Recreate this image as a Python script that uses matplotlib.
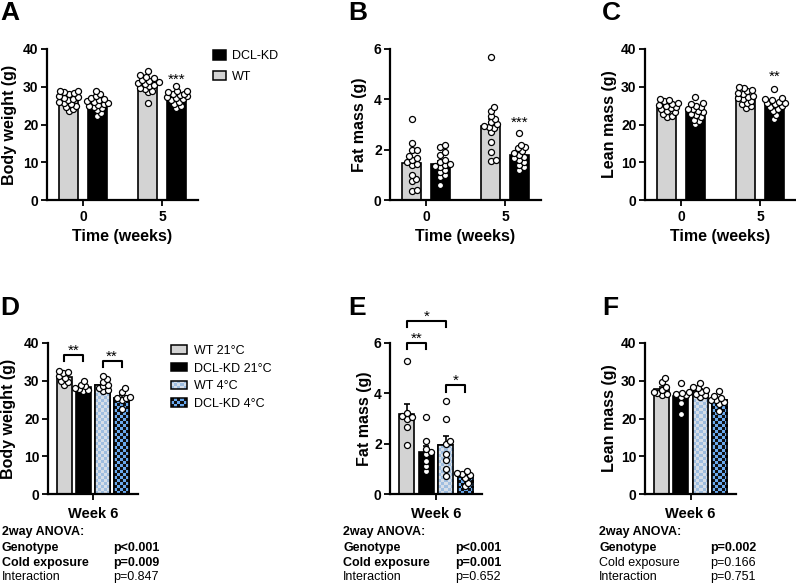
import numpy as np
import matplotlib.pyplot as plt
import matplotlib.transforms as mtransforms
from matplotlib.patches import Patch, Rectangle
from matplotlib.colors import ListedColormap
from matplotlib.legend_handler import HandlerBase

plt.rcParams['font.family'] = ['Liberation Sans', 'DejaVu Sans']

W, H = 796, 583

# ---- data: top row (week 0, week 5) ----
weeks = ['0', '5']
bw_wt = [[29.0, 28.8, 28.5, 28.3, 28.0, 27.6, 27.3, 27.0, 26.8, 26.4, 26.0, 25.7, 25.3, 25.0, 24.6, 24.0, 23.5],
         [34.3, 33.0, 32.5, 32.2, 31.8, 31.5, 31.2, 31.0, 30.8, 30.5, 30.2, 29.8, 29.5, 29.0, 28.5, 25.8]]
bw_kd = [[28.8, 28.0, 27.5, 27.0, 26.8, 26.5, 26.2, 26.0, 25.8, 25.5, 25.2, 25.0, 24.7, 24.3, 23.8, 23.0, 22.2],
         [30.3, 29.0, 28.8, 28.5, 28.2, 28.0, 27.8, 27.5, 27.2, 27.0, 26.8, 26.5, 26.0, 25.5, 24.8, 24.3]]
fat_wt = [[3.22, 2.25, 2.0, 2.0, 1.75, 1.65, 1.6, 1.5, 1.45, 1.4, 1.0, 0.85, 0.75, 0.4, 0.35],
          [5.7, 3.7, 3.55, 3.35, 3.2, 3.1, 3.0, 2.95, 2.9, 2.85, 2.7, 2.3, 1.9, 1.6, 1.55]]
fat_kd = [[2.2, 2.1, 1.9, 1.8, 1.6, 1.5, 1.45, 1.4, 1.35, 1.3, 1.2, 1.1, 1.0, 0.9, 0.6],
          [2.65, 2.2, 2.1, 2.05, 1.95, 1.85, 1.8, 1.7, 1.65, 1.6, 1.5, 1.4, 1.3, 1.2]]
lean_wt = [[26.8, 26.5, 26.2, 25.8, 25.5, 25.2, 25.0, 24.7, 24.4, 24.0, 23.6, 23.2, 22.8, 22.3, 22.0],
           [30.0, 29.8, 29.2, 28.8, 28.3, 28.0, 27.6, 27.3, 27.0, 26.7, 26.3, 25.8, 25.3, 24.8, 24.4]]
lean_kd = [[27.2, 25.8, 25.3, 25.0, 24.6, 24.2, 24.0, 23.6, 23.2, 22.9, 22.5, 22.0, 21.3, 20.9, 20.0],
           [29.5, 27.0, 26.7, 26.4, 26.0, 25.8, 25.6, 25.3, 25.0, 24.6, 24.2, 23.6, 22.6, 21.4]]

# ---- data: bottom row (week 6, 4 groups) ----
groups = ['WT 21°C', 'DCL-KD 21°C', 'WT 4°C', 'DCL-KD 4°C']
bw6 = [[32.5, 32.3, 32.0, 31.2, 30.8, 30.0, 29.8, 29.0],
       [30.0, 29.0, 28.5, 28.0, 27.8, 27.5, 27.3],
       [31.3, 30.5, 29.8, 29.0, 28.5, 28.0, 27.5, 27.2],
       [28.0, 27.0, 25.8, 25.5, 25.3, 24.8, 22.5]]
fat6 = [[5.3, 3.2, 3.1, 3.05, 3.0, 2.65, 1.95],
        [3.05, 2.1, 1.8, 1.65, 1.6, 1.3, 1.1, 0.9],
        [3.7, 3.0, 2.1, 2.0, 1.6, 1.35, 1.0, 0.7],
        [0.9, 0.85, 0.8, 0.75, 0.65, 0.45, 0.3]]
lean6 = [[30.8, 29.8, 28.3, 27.5, 27.0, 26.8, 26.5, 26.2],
         [29.5, 27.0, 26.8, 26.5, 26.2, 25.8, 24.0, 21.2],
         [29.3, 28.3, 28.0, 27.5, 27.0, 26.5, 26.2, 25.8],
         [27.2, 26.0, 25.5, 25.0, 24.8, 24.5, 23.8, 22.0]]

# significance: (bar i, bar j, bracket top, stars)
bw6_sig = [(0, 1, 36.8, '**'), (2, 3, 35.2, '**')]
fat6_sig = [(0, 1, 6.01, '**'), (0, 2, 6.89, '*'), (2, 3, 4.33, '*')]

anova_rows = ['Genotype', 'Cold exposure', 'Interaction']
anova_p = {'D': ['p<0.001', 'p=0.009', 'p=0.847'],
           'E': ['p<0.001', 'p=0.001', 'p=0.652'],
           'F': ['p=0.002', 'p=0.166', 'p=0.751']}
anova_bold = {'D': [True, True, False], 'E': [True, True, False], 'F': [True, False, False]}

gray = '#d3d3d3'
wt4_cols = ('#9fbee0', '#d6dee8')
kd4_cols = ('#111111', '#6aa9ee')

fig = plt.figure(figsize=(W/100, H/100), dpi=100)


def make_ax(x0, x1, y0, y1):
    return fig.add_axes([x0/W, 1-y1/H, (x1-x0)/W, (y1-y0)/H])


def style(ax, ymax, step, ylabel, ylab_x, xlim):
    ax.set_xlim(*xlim)
    ax.set_ylim(0, ymax)
    ax.set_autoscale_on(False)
    for s in ['top', 'right']:
        ax.spines[s].set_visible(False)
    for s in ['left', 'bottom']:
        ax.spines[s].set_linewidth(1.6)
    ax.set_yticks(np.arange(0, ymax+step/2, step))
    ax.tick_params(length=4, width=1.3, labelsize=10, pad=2)
    for t in ax.get_xticklabels() + ax.get_yticklabels():
        t.set_fontweight('bold')
    ax.set_ylabel(ylabel, fontsize=11.5, fontweight='bold')
    tr = mtransforms.blended_transform_factory(fig.transFigure, ax.transAxes)
    ax.yaxis.set_label_coords(ylab_x/W, 0.5, transform=tr)


def swarm(ax, x, vals, diam=4.8, maxoff=10):
    # simple beeswarm in pixel space
    xc, _ = ax.transData.transform((x, 0))
    placed = []
    cands = [0.0]
    for k in np.arange(0.5, maxoff+0.01, 0.5):
        cands += [k, -k]
    for v in sorted(vals):
        _, yp = ax.transData.transform((x, v))
        best, bestd = 0.0, -1
        for c in cands:
            d = min([np.hypot(xc+c-px, yp-py) for px, py in placed], default=99)
            if d >= diam:
                best = c
                break
            if d > bestd:
                best, bestd = c, d
        placed.append((xc+best, yp))
    inv = ax.transData.inverted()
    pts = np.array([inv.transform(p) for p in placed])
    ax.scatter(pts[:, 0], pts[:, 1], s=19, facecolor='white', edgecolor='black',
               linewidth=0.9, zorder=4, clip_on=False)


def checker(ax, bar, cols, cell=3):
    x0, w, h = bar.get_x(), bar.get_width(), bar.get_height()
    p0 = ax.transData.transform((x0, 0))
    p1 = ax.transData.transform((x0+w, h))
    nx = max(1, int(round((p1[0]-p0[0])/cell)))
    ny = max(1, int(round((p1[1]-p0[1])/cell)))
    arr = np.add.outer(np.arange(ny), np.arange(nx)) % 2
    im = ax.imshow(arr, cmap=ListedColormap(list(cols)), extent=(x0, x0+w, 0, h),
                   origin='lower', interpolation='nearest', aspect='auto', zorder=2.1)
    im.set_clip_path(bar)


def bars(ax, xs, data, width, color, pattern=None, maxoff=10):
    means = [np.mean(v) for v in data]
    sems = [np.std(v, ddof=1)/np.sqrt(len(v)) for v in data]
    bc = ax.bar(xs, means, width, color=color, edgecolor='k', linewidth=1.2, zorder=2)
    if pattern is not None:
        for b in bc:
            checker(ax, b, pattern)
        ax.bar(xs, means, width, fill=False, edgecolor='k', linewidth=1.2, zorder=2.2)
    ax.errorbar(xs, means, yerr=[np.zeros(len(means)), sems], fmt='none', ecolor='k',
                elinewidth=1.2, capsize=2.5, capthick=1.2, zorder=3)
    for x, v in zip(xs, data):
        swarm(ax, x, v, maxoff=maxoff)


def top_panel(x0, wt, kd, ymax, step, ylabel, ylab_x, star, star_y):
    ax = make_ax(x0, x0+151, 49, 200)
    style(ax, ymax, step, ylabel, ylab_x, (-0.456, 1.456))
    pos = np.arange(len(weeks))
    ax.set_xticks(pos, weeks)
    ax.tick_params(axis='x', pad=3)
    for t in ax.get_xticklabels():
        t.set_fontweight('bold')
    ax.set_xlabel('Time (weeks)', fontsize=11.5, fontweight='bold', labelpad=4)
    bars(ax, pos-0.18, wt, 0.24, gray, maxoff=11)
    bars(ax, pos+0.18, kd, 0.24, 'black', maxoff=11)
    ax.text(pos[1]+0.18, star_y, star, ha='center', va='baseline', fontsize=11)
    return ax


def bottom_panel(x0, x1, data, ymax, step, ylabel, ylab_x, sig, drop):
    ax = make_ax(x0, x1, 343, 494)
    style(ax, ymax, step, ylabel, ylab_x, (-0.86, 3.86))
    pos = np.arange(len(groups))
    ax.set_xticks([pos.mean()], ['Week 6'])
    ax.tick_params(axis='x', pad=5)
    for t in ax.get_xticklabels():
        t.set_fontweight('bold')
        t.set_fontsize(10.5)
    w = 0.78
    bars(ax, pos[:1], data[:1], w, gray, maxoff=8)
    bars(ax, pos[1:2], data[1:2], w, 'black', maxoff=8)
    bars(ax, pos[2:3], data[2:3], w, gray, pattern=wt4_cols, maxoff=8)
    bars(ax, pos[3:4], data[3:4], w, 'black', pattern=kd4_cols, maxoff=8)
    for i, j, top, s in sig:
        ax.plot([pos[i], pos[i], pos[j], pos[j]], [top-drop, top, top, top-drop],
                color='k', lw=1.5, clip_on=False, zorder=5)
        ax.text((pos[i]+pos[j])/2, top, s, ha='center', va='baseline', fontsize=11)
    return ax


top_panel(47, bw_wt, bw_kd, 40, 10, 'Body weight (g)', 17, '***', 30.7)
top_panel(390, fat_wt, fat_kd, 6, 2, 'Fat mass (g)', 367, '***', 2.9)
top_panel(645, lean_wt, lean_kd, 40, 10, 'Lean mass (g)', 617, '**', 31.5)

bottom_panel(48, 138, bw6, 40, 10, 'Body weight (g)', 16, bw6_sig, 1.6)
bottom_panel(390, 482, fat6, 6, 2, 'Fat mass (g)', 372, fat6_sig, 0.26)
bottom_panel(645, 736, lean6, 40, 10, 'Lean mass (g)', 617, [], 0)

# panel letters
for letter, x, y in [('A', 0, 13), ('B', 348, 13), ('C', 602, 13),
                     ('D', 0, 308), ('E', 348, 308), ('F', 602, 308)]:
    fig.text(x/W, 1-y/H, letter, fontsize=19, fontweight='bold', va='center', ha='left')


# legends
class CheckerHandler(HandlerBase):
    def __init__(self, cols):
        super().__init__()
        self.cols = cols

    def create_artists(self, legend, orig_handle, xdescent, ydescent, width, height, fontsize, trans):
        arts = []
        nx, ny = 5, 3
        for i in range(nx):
            for j in range(ny):
                arts.append(Rectangle((-xdescent + i*width/nx, -ydescent + j*height/ny), width/nx, height/ny,
                                      facecolor=self.cols[(i+j) % 2], edgecolor='none', transform=trans))
        arts.append(Rectangle((-xdescent, -ydescent), width, height, fill=False, edgecolor='k',
                              lw=1.1, transform=trans))
        return arts


h_kd = Patch(facecolor='black', edgecolor='black', linewidth=1.1)
h_wt = Patch(facecolor=gray, edgecolor='black', linewidth=1.1)
fig.legend([h_kd, h_wt], ['DCL-KD', 'WT'], loc='upper left', bbox_to_anchor=(213/W, 1-50/H),
           frameon=False, fontsize=9, handlelength=1.05, handleheight=0.8, labelspacing=0.7,
           handletextpad=0.5, borderpad=0, borderaxespad=0)

h_wt4 = Patch(facecolor=wt4_cols[0])
h_kd4 = Patch(facecolor=kd4_cols[1])
fig.legend([Patch(facecolor=gray, edgecolor='black', linewidth=1.1),
            Patch(facecolor='black', edgecolor='black', linewidth=1.1), h_wt4, h_kd4],
           groups, loc='upper left', bbox_to_anchor=(171/W, 1-345/H),
           frameon=False, fontsize=9, handlelength=1.25, handleheight=0.65, labelspacing=0.45,
           handletextpad=0.6, borderpad=0, borderaxespad=0,
           handler_map={h_wt4: CheckerHandler(wt4_cols), h_kd4: CheckerHandler(kd4_cols)})

# ANOVA text
rows_y = [548, 563, 577]
for key, xl, xp in [('D', 2, 113), ('E', 343, 455), ('F', 599, 710)]:
    fig.text(xl/W, 1-532/H, '2way ANOVA:', fontsize=9, fontweight='bold', va='center')
    for name, p, b, y in zip(anova_rows, anova_p[key], anova_bold[key], rows_y):
        fw = 'bold' if b else 'normal'
        fig.text(xl/W, 1-y/H, name, fontsize=9, fontweight=fw, va='center')
        fig.text(xp/W, 1-y/H, p, fontsize=9, fontweight=fw, va='center')

fig.savefig('out.png', dpi=100)
